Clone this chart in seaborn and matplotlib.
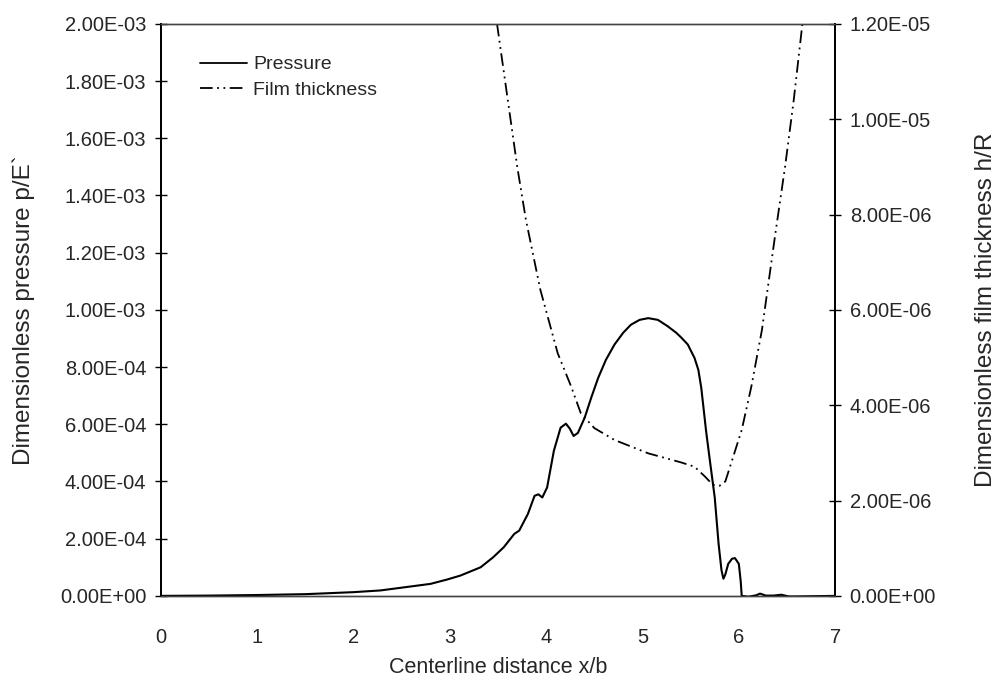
import numpy as np
import pandas as pd
import matplotlib
matplotlib.use("Agg")
import matplotlib.pyplot as plt
from matplotlib.ticker import FuncFormatter, MultipleLocator
from matplotlib.lines import Line2D
import seaborn as sns

# Data
x_pressure = [0.0, 0.5, 1.0, 1.5, 2.0, 2.28, 2.62, 2.8, 2.97, 3.11, 3.32, 3.45, 3.56, 3.67, 3.72,
              3.81, 3.88, 3.92, 3.96, 4.01, 4.08, 4.15, 4.205, 4.245, 4.285, 4.33, 4.40, 4.47,
              4.54, 4.62, 4.71, 4.80, 4.88, 4.97, 5.06, 5.16, 5.26, 5.35, 5.40, 5.47, 5.54,
              5.58, 5.61, 5.66, 5.70, 5.75, 5.79, 5.82, 5.84, 5.86, 5.89, 5.93, 5.96, 6.00,
              6.02, 6.03, 6.10, 6.18, 6.22, 6.28, 6.36, 6.44, 6.52, 6.60, 7.0]
pressure = [0.0, 1.0e-6, 3.0e-6, 6.0e-6, 1.3e-5, 1.9e-5, 3.4e-5, 4.2e-5, 5.7e-5, 7.1e-5, 1.0e-4,
            1.35e-4, 1.70e-4, 2.17e-4, 2.28e-4, 2.86e-4, 3.50e-4, 3.55e-4, 3.44e-4, 3.79e-4,
            5.07e-4, 5.88e-4, 6.02e-4, 5.85e-4, 5.59e-4, 5.70e-4, 6.23e-4, 6.95e-4, 7.62e-4,
            8.25e-4, 8.79e-4, 9.20e-4, 9.48e-4, 9.65e-4, 9.71e-4, 9.65e-4, 9.43e-4, 9.20e-4,
            9.04e-4, 8.79e-4, 8.32e-4, 7.90e-4, 7.28e-4, 5.77e-4, 4.72e-4, 3.44e-4, 1.82e-4,
            9.0e-5, 6.0e-5, 7.5e-5, 1.12e-4, 1.30e-4, 1.32e-4, 1.12e-4, 5.0e-5, 0.0, -3.0e-6,
            2.0e-6, 8.0e-6, 1.0e-6, 1.0e-6, 4.0e-6, -2.0e-6, -2.0e-6, 0.0]

x_film = [3.49, 3.70, 3.79, 3.94, 4.12, 4.26, 4.36, 4.50, 4.71, 5.06, 5.40, 5.54, 5.65, 5.73,
          5.80, 5.86, 5.92, 6.03, 6.13, 6.24, 6.38, 6.48, 6.57, 6.66]
film = [12.0e-6, 9.0e-6, 7.89e-6, 6.42e-6, 5.09e-6, 4.39e-6, 3.83e-6, 3.52e-6, 3.27e-6,
        2.99e-6, 2.80e-6, 2.71e-6, 2.50e-6, 2.33e-6, 2.31e-6, 2.40e-6, 2.78e-6, 3.48e-6,
        4.39e-6, 5.58e-6, 7.61e-6, 9.0e-6, 10.4e-6, 12.0e-6]

df_p = pd.DataFrame({"x": x_pressure, "p": pressure})
df_h = pd.DataFrame({"x": x_film, "h": film})

sns.set_style("white")
plt.rcParams["font.family"] = ["Liberation Sans", "DejaVu Sans"]

fig = plt.figure(figsize=(10.05, 6.81), dpi=100)
ax = fig.add_axes([0.160, 0.125, 0.671, 0.840])
ax2 = ax.twinx()

film_dash = (7, 2.5, 1, 2.5, 1, 2.5)
sns.lineplot(data=df_p, x="x", y="p", ax=ax, color="black", lw=1.5, estimator=None, sort=False)
sns.lineplot(data=df_h, x="x", y="h", ax=ax2, color="black", lw=1.3, estimator=None, sort=False,
             dashes=False)
ax2.lines[0].set_dashes(film_dash)

# Axes
ax.set_xlim(0, 7)
ax.set_ylim(0, 2.0e-3)
ax2.set_ylim(0, 1.2e-5)
ax.xaxis.set_major_locator(MultipleLocator(1))
ax.yaxis.set_major_locator(MultipleLocator(2e-4))
ax2.yaxis.set_major_locator(MultipleLocator(2e-6))
sci = FuncFormatter(lambda v, pos: f"{v:.2E}")
ax.yaxis.set_major_formatter(sci)
ax2.yaxis.set_major_formatter(sci)

ax.tick_params(axis="x", direction="out", length=5, width=1, labelsize=14.5, pad=18, color="black")
ax.tick_params(axis="y", direction="inout", length=9, width=1, labelsize=14.5, pad=6, color="black")
ax2.tick_params(axis="y", direction="inout", length=9, width=1, labelsize=14.5, pad=6, color="black")

ax.set_xlabel("Centerline distance x/b", fontsize=15.5, labelpad=7)
ax.set_ylabel("Dimensionless pressure p/E`", fontsize=17.5, labelpad=18)
ax2.set_ylabel("Dimensionless film thickness h/R", fontsize=17.5, labelpad=28)

for a in (ax, ax2):
    for side in ("left", "right"):
        a.spines[side].set_color("black")
        a.spines[side].set_linewidth(1.3)
    for side in ("top", "bottom"):
        a.spines[side].set_color("#444444")
        a.spines[side].set_linewidth(1.0)
        a.spines[side].set_linestyle((0, (1, 1)))
ax.set_zorder(ax2.get_zorder() + 1)
ax.patch.set_visible(False)

# Legend
handles = [Line2D([], [], color="black", lw=1.3),
           Line2D([], [], color="black", lw=1.3, dashes=film_dash)]
ax.legend(handles, ["Pressure", "Film thickness"], loc="upper left",
          bbox_to_anchor=(0.058, 0.944), frameon=False, fontsize=14,
          handlelength=2.4, handletextpad=0.35, labelspacing=0.4,
          borderaxespad=0, borderpad=0)

fig.savefig("out.png", dpi=100)
